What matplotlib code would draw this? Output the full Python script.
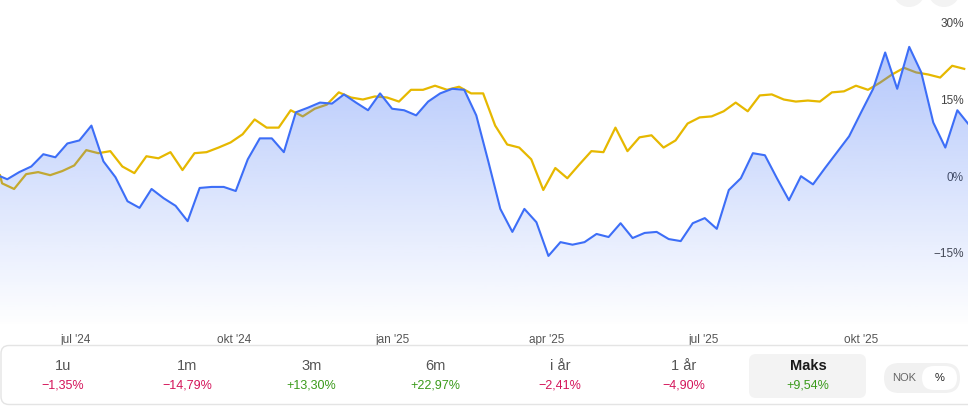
import numpy as np
import pandas as pd
import matplotlib
matplotlib.use("Agg")
import matplotlib.pyplot as plt
import matplotlib.dates as mdates
from matplotlib.patches import FancyBboxPatch, Circle

plt.rcParams["font.family"] = ["Liberation Sans", "DejaVu Sans"]

# Weekly % development, stock (blue) vs. index (yellow)
range_start = "2024-05-17 19:00"
range_end = "2025-12-02 05:00"

stock_first = "2024-05-22"
stock_start_pct = 0.0
stock_end_pct = 10.3
stock_pct = [-0.6, 0.8, 1.9, 4.3, 3.7, 6.4, 7.0, 9.9, 2.9, -0.2,
             -4.9, -6.2, -2.5, -4.3, -5.8, -8.8, -2.3, -2.1, -2.1, -2.9,
             3.3, 7.4, 7.4, 4.7, 12.5, 13.4, 14.4, 14.2, 16.0, 14.4,
             12.9, 16.2, 13.2, 12.9, 11.9, 14.6, 16.2, 17.1, 16.9, 11.9,
             2.9, -6.4, -10.9, -6.4, -9.0, -15.6, -12.9, -13.4, -12.9, -11.3,
             -11.9, -9.2, -12.1, -11.1, -10.9, -12.3, -12.7, -9.2, -8.2, -10.3,
             -2.7, -0.4, 4.5, 4.1, -0.4, -4.7, 0.0, -1.6, 1.6, 4.7,
             7.8, 12.5, 17.1, 24.2, 17.1, 25.3, 20.3, 10.5, 5.6, 12.9]

index_first = "2024-05-19"
index_start_pct = 0.2
index_pct = [-1.4, -2.5, 0.4, 0.8, 0.2, 1.0, 2.1, 5.1, 4.5, 4.9,
             1.9, 0.6, 3.9, 3.5, 4.7, 1.2, 4.5, 4.7, 5.6, 6.6,
             8.2, 11.1, 9.5, 9.5, 12.9, 11.7, 13.2, 14.0, 16.4, 15.4,
             15.0, 15.6, 15.4, 14.6, 16.9, 16.9, 17.7, 16.9, 17.5, 16.2,
             16.2, 9.9, 6.2, 5.6, 3.3, -2.7, 1.6, -0.4, 2.3, 4.9,
             4.7, 9.5, 4.9, 7.6, 8.0, 5.6, 7.0, 10.3, 11.5, 11.7,
             12.7, 14.4, 12.7, 15.8, 16.0, 15.0, 14.6, 14.8, 14.6, 16.4,
             16.6, 17.7, 16.9, 18.3, 19.9, 21.2, 20.3, 19.9, 19.3, 21.6,
             21.0]

y_ticks = [-15, 0, 15, 30]
x_ticks = ["2024-07-01", "2024-10-01", "2025-01-01", "2025-04-01", "2025-07-01", "2025-10-01"]
x_tick_labels = ["jul '24", "okt '24", "jan '25", "apr '25", "jul '25", "okt '25"]

period_labels = ["1u", "1m", "3m", "6m", "i år", "1 år", "Maks"]
period_returns = [-1.35, -14.79, 13.30, 22.97, -2.41, -4.90, 9.54]

BLUE = "#3d6ef7"
YELLOW = "#e6b800"

t0, t1 = pd.Timestamp(range_start), pd.Timestamp(range_end)
stock_dates = [t0] + list(pd.date_range(stock_first, periods=len(stock_pct), freq="7D")) + [t1]
stock_vals = [stock_start_pct] + stock_pct + [stock_end_pct]
index_dates = [t0] + list(pd.date_range(index_first, periods=len(index_pct), freq="7D"))
index_vals = [index_start_pct] + index_pct

fig = plt.figure(figsize=(9.68, 4.08), dpi=100)
ax = fig.add_axes([0, 80 / 408, 1, 328 / 408])
ybot, ytop = -29.7, 34.47
ax.set_xlim(t0, t1)
ax.set_ylim(ybot, ytop)

# index line below the fill, stock on top
ax.plot(index_dates, index_vals, color=YELLOW, lw=1.6, zorder=1)

poly = ax.fill_between(stock_dates, stock_vals, ybot, facecolor="none", edgecolor="none")
grad = np.zeros((256, 1, 4))
grad[:, 0, 0] = 59 / 255
grad[:, 0, 1] = 110 / 255
grad[:, 0, 2] = 246 / 255
grad[:, 0, 3] = np.linspace(0.0, 0.45, 256)
x0n, x1n = mdates.date2num(t0), mdates.date2num(t1)
im = ax.imshow(grad, extent=[x0n, x1n, ybot, ytop], aspect="auto", origin="lower", zorder=2)
im.set_clip_path(poly.get_paths()[0], transform=ax.transData)
ax.set_xlim(t0, t1)
ax.set_ylim(ybot, ytop)

ax.plot(stock_dates, stock_vals, color=BLUE, lw=1.5, zorder=3)

for s in ax.spines.values():
    s.set_visible(False)

ax.set_yticks(y_ticks)
ax.set_yticklabels([f"{v}%".replace("-", "\u2212") for v in y_ticks])
ax.yaxis.tick_right()
ax.tick_params(axis="y", length=0, pad=-3, labelsize=8.5, labelcolor="#444444")
for lab in ax.get_yticklabels():
    lab.set_horizontalalignment("right")

ax.set_xticks([pd.Timestamp(d) for d in x_ticks])
ax.set_xticklabels(x_tick_labels)
ax.tick_params(axis="x", length=0, pad=4, labelsize=8.5, labelcolor="#555555")

# bottom card with period returns, drawn in pixel coordinates
ov = fig.add_axes([0, 0, 1, 1])
ov.set_xlim(0, 968)
ov.set_ylim(408, 0)
ov.axis("off")

ov.add_patch(FancyBboxPatch((1, 345.5), 990, 59, boxstyle="round,pad=0,rounding_size=8",
                            facecolor="white", edgecolor="#e4e4e4", lw=1))
ov.add_patch(Circle((909, -9), 16, facecolor="#f3f3f3", edgecolor="none"))
ov.add_patch(Circle((944, -9), 16, facecolor="#f3f3f3", edgecolor="none"))

ov.add_patch(FancyBboxPatch((749, 354), 117, 44, boxstyle="round,pad=0,rounding_size=7",
                            facecolor="#f3f3f3", edgecolor="none"))

col_x = 63 + 124.2 * np.arange(len(period_labels))
for i, (lab, r) in enumerate(zip(period_labels, period_returns)):
    last = i == len(period_labels) - 1
    ov.text(col_x[i], 366, lab, ha="center", va="center", fontsize=10.5,
            color="#1a1a1a" if last else "#555555", fontweight="bold" if last else "normal")
    sign = "+" if r >= 0 else "\u2212"
    txt = sign + f"{abs(r):.2f}".replace(".", ",") + "%"
    ov.text(col_x[i], 385, txt, ha="center", va="center", fontsize=9,
            color="#3a9a1a" if r >= 0 else "#d4145a")

# NOK / % toggle
ov.add_patch(FancyBboxPatch((884, 363), 76, 30, boxstyle="round,pad=0,rounding_size=15",
                            facecolor="#f1f1f1", edgecolor="none"))
ov.add_patch(FancyBboxPatch((922, 366), 35, 24, boxstyle="round,pad=0,rounding_size=12",
                            facecolor="white", edgecolor="none"))
ov.text(904, 378, "NOK", ha="center", va="center", fontsize=8, color="#666666")
ov.text(939.5, 378, "%", ha="center", va="center", fontsize=8, color="#222222")

fig.savefig("out.png", dpi=100)
